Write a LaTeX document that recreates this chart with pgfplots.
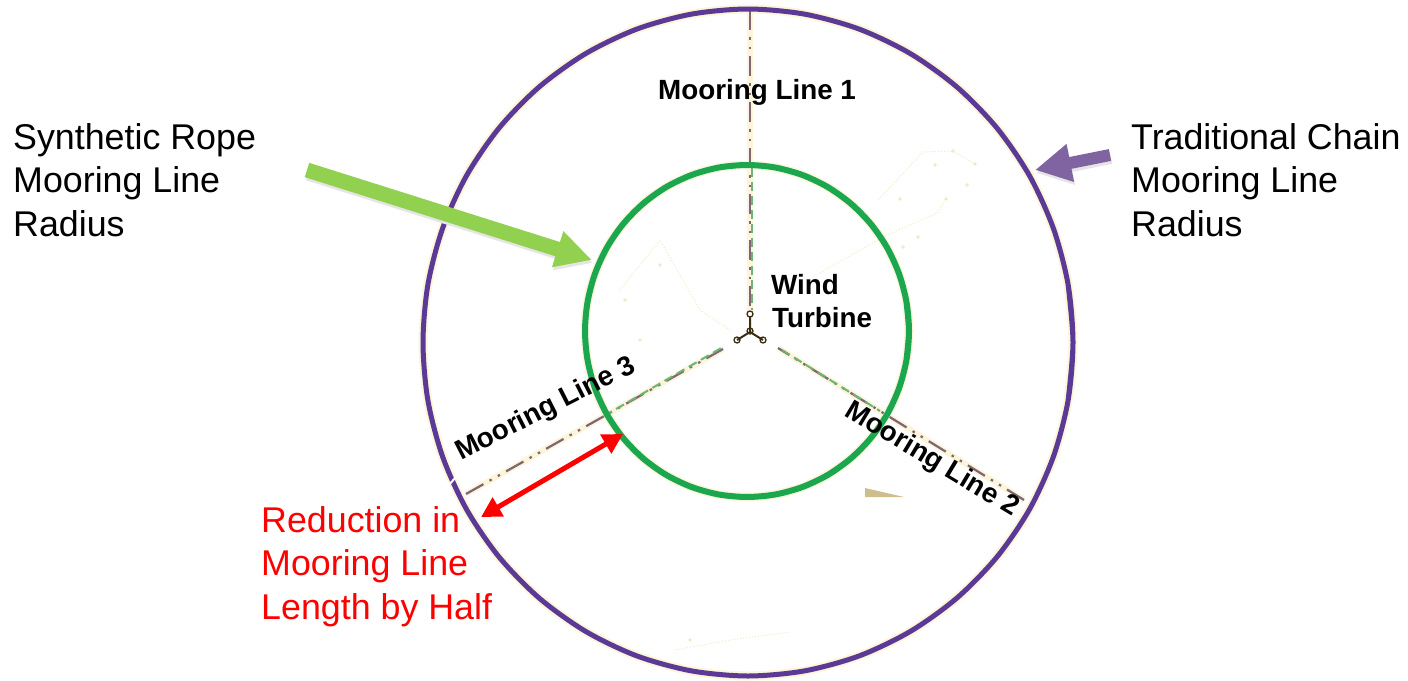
\documentclass[border=0pt]{standalone}
\usepackage{fontspec}
\setmainfont{Liberation Sans}
\usepackage{pgfplots}
\usepackage{pgfplotstable}
\pgfplotsset{compat=1.18}
\usetikzlibrary{arrows.meta}

\definecolor{ringpurple}{HTML}{5A3A96}
\definecolor{ringgreen}{HTML}{1BA650}
\definecolor{halo}{HTML}{FCF5DA}
\definecolor{speck}{HTML}{EFE9C8}
\definecolor{rope}{HTML}{806478}
\definecolor{ropegreen}{HTML}{6DB575}
\definecolor{turbine}{HTML}{3A2E10}
\definecolor{scrap}{HTML}{CDBE8C}
\definecolor{arrowgreen}{HTML}{92D050}
\definecolor{arrowpurple}{HTML}{8064A2}

\tikzset{txt/.style={anchor=base west, inner sep=0pt}}

\pgfplotstableread{
x y
1068.1 400.4
1073 342.5
1068.1 284.6
1053.4 228.4
1029.5 175.7
997 128.1
956.9 87
910.5 53.7
859.2 29.1
804.4 14.1
748 9
691.6 14.1
636.8 29.1
585.5 53.7
539.1 87
499 128.1
466.5 175.7
442.6 228.4
427.9 284.6
423 342.5
427.9 400.4
442.6 456.6
466.5 509.3
499 556.9
539.1 598
585.5 631.3
636.8 655.9
691.6 670.9
748 676
804.4 670.9
859.2 655.9
910.5 631.3
956.9 598
997 556.9
1029.5 509.3
1053.4 456.6
1068.1 400.4
1073 342.5
1068.1 284.6
}\outerring

\pgfplotstableread{
x y
906.5 359.8
909 331
906.5 302.2
899.2 274.2
887.3 248
871.1 224.3
851.1 203.8
828 187.2
802.4 175
775.1 167.5
747 165
718.9 167.5
691.6 175
666 187.2
642.9 203.8
622.9 224.3
606.7 248
594.8 274.2
587.5 302.2
585 331
587.5 359.8
594.8 387.8
606.7 414
622.9 437.7
642.9 458.2
666 474.8
691.6 487
718.9 494.5
747 497
775.1 494.5
802.4 487
828 474.8
851.1 458.2
871.1 437.7
887.3 414
899.2 387.8
906.5 359.8
909 331
906.5 302.2
}\innerring

\newcommand{\reg}{\fontsize{35.8}{36}\selectfont}
\newcommand{\bld}{\fontsize{27.8}{28}\selectfont\bfseries}

\begin{document}
\begin{tikzpicture}
\path[use as bounding box] (0,0) rectangle (1408pt,680pt);
\begin{axis}[
    scale only axis,
    width=1408pt, height=680pt,
    xmin=0, xmax=1408, ymin=0, ymax=680,
    y dir=reverse,
    hide axis,
    clip=false,
    ropeline/.style={no markers, rope, line width=2.2pt, dash pattern=on 20pt off 7pt on 2.5pt off 7pt on 2.5pt off 7pt},
    ropedash/.style={no markers, ropegreen, line width=2pt, dash pattern=on 9pt off 5pt},
    faint/.style={no markers, speck, line width=1pt, dotted},
]
% pale halos
\addplot[no markers, smooth, halo, line width=9pt] table {\outerring};
\addplot[no markers, smooth, halo, line width=9pt] table {\innerring};
\addplot[no markers, halo, line width=6pt] coordinates {(750,12) (750,312)};
\addplot[no markers, halo, line width=6pt] coordinates {(723,349) (466,494)};
\addplot[no markers, halo, line width=6pt] coordinates {(778,348) (1024,500)};

% faint traces left in the scan
\addplot[faint] coordinates {(820,273) (883,237) (937,213) (946,199)};
\addplot[faint] coordinates {(878,200) (923,152) (953,151) (975,164)};
\addplot[faint] coordinates {(620,290) (660,240) (700,310) (730,330)};
\addplot[faint] coordinates {(675,650) (730,640) (790,632)};
\addplot[only marks, mark=*, mark size=1.5pt, speck] coordinates {
    (953,151) (935,165) (975,164) (967,185) (946,199) (900,199) (918,237) (903,247)
    (660,265) (625,300) (640,340) (690,640)};

% mooring lines
\addplot[ropeline] coordinates {(750,10) (750,312)};
\addplot[ropeline] coordinates {(466,494) (723,349)};
\addplot[ropeline] coordinates {(1024,500) (778,348)};
\addplot[ropedash] coordinates {(752,168) (752,310)};
\addplot[ropedash] coordinates {(604,416) (723,347)};
\addplot[ropedash] coordinates {(782,350) (880,411)};

% rings
\addplot[no markers, smooth, ringpurple, line width=5pt] table {\outerring};
\addplot[no markers, smooth, ringgreen, line width=6pt] table {\innerring};

% turbine
\addplot[no markers, turbine, line width=2pt] coordinates {(750,316) (750,332) (737,340)};
\addplot[no markers, turbine, line width=2pt] coordinates {(750,332) (763,340)};
\addplot[only marks, mark=o, mark size=3pt, turbine, line width=1.3pt] coordinates {(750,314) (750,331) (737,340) (763,340)};

% scrap of the covered label and the cut in the ring
\addplot[draw=none, fill=scrap] coordinates {(865,488) (904,497) (865,497)} --cycle;
\addplot[no markers, white, line width=2pt] coordinates {(449,485) (461,471)};

% arrows, each with a soft shadow
\addplot[no markers, black!10, line width=15pt, -{Triangle[length=36pt,width=35pt]}] coordinates {(308,173) (593,263)};
\addplot[no markers, arrowgreen, line width=15pt, -{Triangle[length=36pt,width=35pt]}] coordinates {(307,170) (592,260)};
\addplot[no markers, black!10, line width=12pt, -{Triangle[length=36pt,width=36pt]}] coordinates {(1111,158) (1036,173)};
\addplot[no markers, arrowpurple, line width=12pt, -{Triangle[length=36pt,width=36pt]}] coordinates {(1110,155) (1035,170)};
\addplot[no markers, red, line width=5pt, {Triangle[length=20pt,width=21pt]}-{Triangle[length=20pt,width=21pt]}] coordinates {(481,517) (623,434)};

% labels
\node[txt, font=\reg] at (axis cs:13,149) {Synthetic Rope};
\node[txt, font=\reg] at (axis cs:13,192) {Mooring Line};
\node[txt, font=\reg] at (axis cs:13,236) {Radius};
\node[txt, font=\reg] at (axis cs:1131,149) {Traditional Chain};
\node[txt, font=\reg] at (axis cs:1131,192) {Mooring Line};
\node[txt, font=\reg] at (axis cs:1131,236) {Radius};
\node[txt, font=\reg, text=red] at (axis cs:261,532) {Reduction in};
\node[txt, font=\reg, text=red] at (axis cs:261,575) {Mooring Line};
\node[txt, font=\reg, text=red] at (axis cs:261,619) {Length by Half};
\node[txt, font=\bld] at (axis cs:658,99) {Mooring Line 1};
\node[txt, font=\bld] at (axis cs:771,294) {Wind};
\node[txt, font=\bld] at (axis cs:772,327) {Turbine};
\node[txt, font=\bld, rotate=27] at (axis cs:461,461) {Mooring Line 3};
\node[txt, font=\bld, rotate=-31] at (axis cs:843,415) {Mooring Line 2};
\end{axis}
\end{tikzpicture}
\end{document}
